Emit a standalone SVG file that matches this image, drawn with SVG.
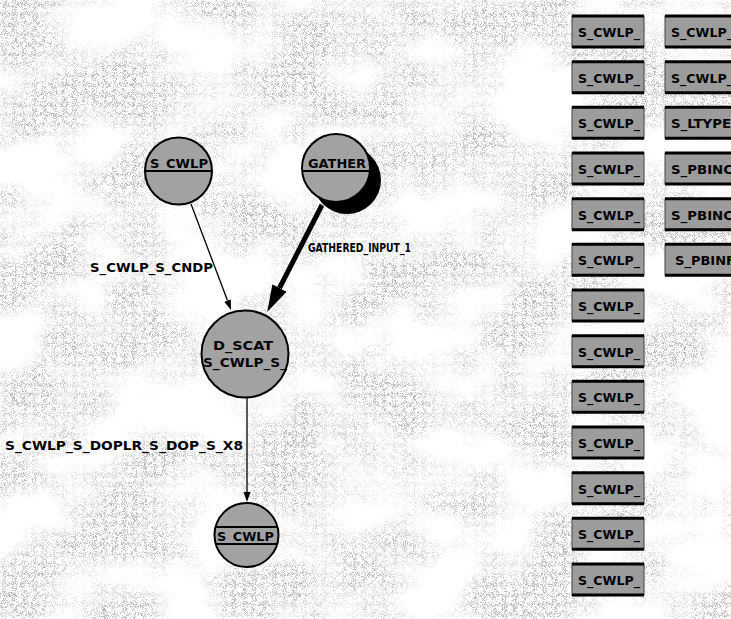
<svg xmlns="http://www.w3.org/2000/svg" width="731" height="619" viewBox="0 0 731 619">
  <defs>
    <style>
      .lbl { font-family: "DejaVu Sans", "Liberation Sans", sans-serif; font-weight: bold; font-size: 12px; fill: #000; }
      .node { fill: #a2a2a2; stroke: #000; stroke-width: 2; }
      .div { stroke: #000; stroke-width: 2; }
      .edge { fill: none; stroke: #000; stroke-width: 1.3; }
      .edge-bold { fill: none; stroke: #000; stroke-width: 5; }
      .box { fill: #9c9c9c; stroke: #444; stroke-width: 1; }
      .box-rim { stroke: #000; stroke-width: 3; }
    </style>
    <!-- mottled paper backdrop -->
    <filter id="mottle" x="0" y="0" width="731" height="619" filterUnits="userSpaceOnUse">
      <feTurbulence type="fractalNoise" baseFrequency="0.012 0.016" numOctaves="3" seed="11" result="low"/>
      <feColorMatrix in="low" type="matrix" result="mask"
        values="0 0 0 0 0  0 0 0 0 0  0 0 0 0 0  3.2 0 0 0 -1.15"/>
      <feTurbulence type="turbulence" baseFrequency="0.9" numOctaves="1" seed="3" result="fine"/>
      <feColorMatrix in="fine" type="matrix" result="grain"
        values="0 0 0 0 0.5  0 0 0 0 0.5  0 0 0 0 0.5  0 0 0 5 -0.7"/>
      <feComposite in="grain" in2="mask" operator="in"/>
    </filter>
    <marker id="arrowSmall" markerUnits="userSpaceOnUse" markerWidth="12" markerHeight="10"
            viewBox="0 -5 12 10" refX="0" refY="0" orient="auto">
      <path d="M0,-3.5 L10,0 L0,3.5 z" fill="#000"/>
    </marker>
    <marker id="arrowBig" markerUnits="userSpaceOnUse" markerWidth="30" markerHeight="20"
            viewBox="0 -10 30 20" refX="0" refY="0" orient="auto">
      <path d="M0,-8 L27,0 L0,8 z" fill="#000"/>
    </marker>
  </defs>

  <!-- backdrop -->
  <rect x="0" y="0" width="731" height="619" fill="#ffffff"/>
  <rect x="0" y="0" width="731" height="619" fill="#fff" filter="url(#mottle)"/>

  <!-- connectors -->
  <g id="connectors">
    <g id="edge-cwlp-dscat">
      <path class="edge" d="M191,204 L227.5,300.6" marker-end="url(#arrowSmall)"/>
      <text class="lbl" x="90" y="272" textLength="123" lengthAdjust="spacingAndGlyphs">S_CWLP_S_CNDP</text>
    </g>
    <g id="edge-gather-dscat">
      <path class="edge-bold" d="M322,205 L279.5,288" marker-end="url(#arrowBig)"/>
      <text class="lbl" x="308" y="252" textLength="103" lengthAdjust="spacingAndGlyphs">GATHERED_INPUT_1</text>
    </g>
    <g id="edge-dscat-cwlp">
      <path class="edge" d="M247,398 L247,492" marker-end="url(#arrowSmall)"/>
      <text class="lbl" x="5" y="450" textLength="238" lengthAdjust="spacingAndGlyphs">S_CWLP_S_DOPLR_S_DOP_S_X8</text>
    </g>
  </g>

  <!-- graph nodes -->
  <g id="node-s-cwlp-src">
    <circle class="node" cx="178.5" cy="171" r="33.5"/>
    <line class="div" x1="145" y1="171" x2="212" y2="171"/>
    <text class="lbl" x="150" y="168" textLength="58" lengthAdjust="spacingAndGlyphs">S_CWLP</text>
  </g>

  <g id="node-gather">
    <circle cx="347" cy="180" r="34" fill="#000"/>
    <circle class="node" cx="336" cy="168" r="34"/>
    <line class="div" x1="302" y1="171" x2="370" y2="171"/>
    <text class="lbl" x="308" y="168" textLength="58" lengthAdjust="spacingAndGlyphs">GATHER</text>
  </g>

  <g id="node-d-scat">
    <circle class="node" cx="245" cy="354" r="43.5"/>
    <text class="lbl" x="213" y="350" textLength="60" lengthAdjust="spacingAndGlyphs">D_SCAT</text>
    <text class="lbl" x="203" y="367" textLength="84" lengthAdjust="spacingAndGlyphs">S_CWLP_S_</text>
  </g>

  <g id="node-s-cwlp-dst">
    <circle class="node" cx="246.5" cy="535" r="32"/>
    <line class="div" x1="215" y1="527" x2="278" y2="527"/>
    <line class="div" x1="215" y1="544" x2="278" y2="544"/>
    <text class="lbl" x="217" y="541" textLength="57" lengthAdjust="spacingAndGlyphs">S_CWLP</text>
  </g>

  <!-- palette of operator tiles, first column -->
  <g id="tiles-col1">
    <g id="tile-1-1" transform="translate(572,16)"><rect class="box" width="72" height="31"/><line class="box-rim" x1="0" y1="0" x2="72" y2="0"/><line class="box-rim" x1="0" y1="31" x2="72" y2="31"/><text class="lbl" x="6" y="21" textLength="62" lengthAdjust="spacingAndGlyphs">S_CWLP_</text></g>
    <g id="tile-1-2" transform="translate(572,61.7)"><rect class="box" width="72" height="31"/><line class="box-rim" x1="0" y1="0" x2="72" y2="0"/><line class="box-rim" x1="0" y1="31" x2="72" y2="31"/><text class="lbl" x="6" y="21" textLength="62" lengthAdjust="spacingAndGlyphs">S_CWLP_</text></g>
    <g id="tile-1-3" transform="translate(572,107.3)"><rect class="box" width="72" height="31"/><line class="box-rim" x1="0" y1="0" x2="72" y2="0"/><line class="box-rim" x1="0" y1="31" x2="72" y2="31"/><text class="lbl" x="6" y="21" textLength="62" lengthAdjust="spacingAndGlyphs">S_CWLP_</text></g>
    <g id="tile-1-4" transform="translate(572,153)"><rect class="box" width="72" height="31"/><line class="box-rim" x1="0" y1="0" x2="72" y2="0"/><line class="box-rim" x1="0" y1="31" x2="72" y2="31"/><text class="lbl" x="6" y="21" textLength="62" lengthAdjust="spacingAndGlyphs">S_CWLP_</text></g>
    <g id="tile-1-5" transform="translate(572,198.7)"><rect class="box" width="72" height="31"/><line class="box-rim" x1="0" y1="0" x2="72" y2="0"/><line class="box-rim" x1="0" y1="31" x2="72" y2="31"/><text class="lbl" x="6" y="21" textLength="62" lengthAdjust="spacingAndGlyphs">S_CWLP_</text></g>
    <g id="tile-1-6" transform="translate(572,244.3)"><rect class="box" width="72" height="31"/><line class="box-rim" x1="0" y1="0" x2="72" y2="0"/><line class="box-rim" x1="0" y1="31" x2="72" y2="31"/><text class="lbl" x="6" y="21" textLength="62" lengthAdjust="spacingAndGlyphs">S_CWLP_</text></g>
    <g id="tile-1-7" transform="translate(572,290)"><rect class="box" width="72" height="31"/><line class="box-rim" x1="0" y1="0" x2="72" y2="0"/><line class="box-rim" x1="0" y1="31" x2="72" y2="31"/><text class="lbl" x="6" y="21" textLength="62" lengthAdjust="spacingAndGlyphs">S_CWLP_</text></g>
    <g id="tile-1-8" transform="translate(572,335.7)"><rect class="box" width="72" height="31"/><line class="box-rim" x1="0" y1="0" x2="72" y2="0"/><line class="box-rim" x1="0" y1="31" x2="72" y2="31"/><text class="lbl" x="6" y="21" textLength="62" lengthAdjust="spacingAndGlyphs">S_CWLP_</text></g>
    <g id="tile-1-9" transform="translate(572,381.3)"><rect class="box" width="72" height="31"/><line class="box-rim" x1="0" y1="0" x2="72" y2="0"/><line class="box-rim" x1="0" y1="31" x2="72" y2="31"/><text class="lbl" x="6" y="21" textLength="62" lengthAdjust="spacingAndGlyphs">S_CWLP_</text></g>
    <g id="tile-1-10" transform="translate(572,427)"><rect class="box" width="72" height="31"/><line class="box-rim" x1="0" y1="0" x2="72" y2="0"/><line class="box-rim" x1="0" y1="31" x2="72" y2="31"/><text class="lbl" x="6" y="21" textLength="62" lengthAdjust="spacingAndGlyphs">S_CWLP_</text></g>
    <g id="tile-1-11" transform="translate(572,472.7)"><rect class="box" width="72" height="31"/><line class="box-rim" x1="0" y1="0" x2="72" y2="0"/><line class="box-rim" x1="0" y1="31" x2="72" y2="31"/><text class="lbl" x="6" y="21" textLength="62" lengthAdjust="spacingAndGlyphs">S_CWLP_</text></g>
    <g id="tile-1-12" transform="translate(572,518.3)"><rect class="box" width="72" height="31"/><line class="box-rim" x1="0" y1="0" x2="72" y2="0"/><line class="box-rim" x1="0" y1="31" x2="72" y2="31"/><text class="lbl" x="6" y="21" textLength="62" lengthAdjust="spacingAndGlyphs">S_CWLP_</text></g>
    <g id="tile-1-13" transform="translate(572,564)"><rect class="box" width="72" height="31"/><line class="box-rim" x1="0" y1="0" x2="72" y2="0"/><line class="box-rim" x1="0" y1="31" x2="72" y2="31"/><text class="lbl" x="6" y="21" textLength="62" lengthAdjust="spacingAndGlyphs">S_CWLP_</text></g>
  </g>

  <!-- second column, runs off the right edge -->
  <g id="tiles-col2">
    <g id="tile-2-1" transform="translate(665,16)"><rect class="box" width="72" height="31"/><line class="box-rim" x1="0" y1="0" x2="72" y2="0"/><line class="box-rim" x1="0" y1="31" x2="72" y2="31"/><text class="lbl" x="6" y="21" textLength="62" lengthAdjust="spacingAndGlyphs">S_CWLP_</text></g>
    <g id="tile-2-2" transform="translate(665,61.7)"><rect class="box" width="72" height="31"/><line class="box-rim" x1="0" y1="0" x2="72" y2="0"/><line class="box-rim" x1="0" y1="31" x2="72" y2="31"/><text class="lbl" x="6" y="21" textLength="62" lengthAdjust="spacingAndGlyphs">S_CWLP_</text></g>
    <g id="tile-2-3" transform="translate(665,107.3)"><rect class="box" width="72" height="31"/><line class="box-rim" x1="0" y1="0" x2="72" y2="0"/><line class="box-rim" x1="0" y1="31" x2="72" y2="31"/><text class="lbl" x="6" y="21" textLength="60" lengthAdjust="spacingAndGlyphs">S_LTYPE</text></g>
    <g id="tile-2-4" transform="translate(665,153)"><rect class="box" width="72" height="31"/><line class="box-rim" x1="0" y1="0" x2="72" y2="0"/><line class="box-rim" x1="0" y1="31" x2="72" y2="31"/><text class="lbl" x="6" y="21" textLength="62" lengthAdjust="spacingAndGlyphs">S_PBINC</text></g>
    <g id="tile-2-5" transform="translate(665,198.7)"><rect class="box" width="72" height="31"/><line class="box-rim" x1="0" y1="0" x2="72" y2="0"/><line class="box-rim" x1="0" y1="31" x2="72" y2="31"/><text class="lbl" x="6" y="21" textLength="62" lengthAdjust="spacingAndGlyphs">S_PBINC</text></g>
    <g id="tile-2-6" transform="translate(665,244.3)"><rect class="box" width="72" height="31"/><line class="box-rim" x1="0" y1="0" x2="72" y2="0"/><line class="box-rim" x1="0" y1="31" x2="72" y2="31"/><text class="lbl" x="10" y="21" textLength="60" lengthAdjust="spacingAndGlyphs">S_PBINF</text></g>
  </g>
</svg>
